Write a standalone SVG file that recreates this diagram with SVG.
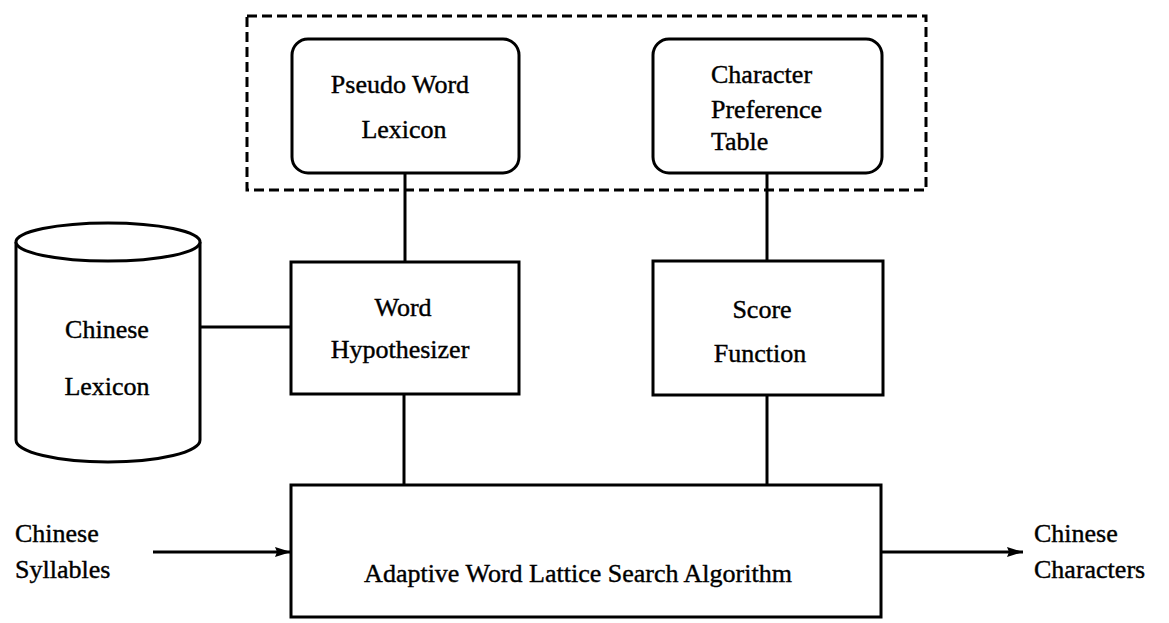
<svg xmlns="http://www.w3.org/2000/svg" width="1169" height="623" viewBox="0 0 1169 623">
<defs>
<style>
.box{fill:#fff;stroke:#000;stroke-width:3}
.ln{fill:none;stroke:#000;stroke-width:3}
.dash{fill:none;stroke:#000;stroke-width:3;stroke-dasharray:10 5}
text{font-family:"Liberation Serif","Times New Roman",serif;font-size:26px;fill:#000;stroke:#000;stroke-width:0.4}
.c{text-anchor:middle}
</style>
<marker id="arr" viewBox="0 0 16 10" refX="16" refY="5" markerWidth="16" markerHeight="10" markerUnits="userSpaceOnUse" orient="auto">
<path d="M0,0 L16,5 L0,10 L2,5 Z" fill="#000"/>
</marker>
</defs>
<rect width="1169" height="623" fill="#fff"/>
<g id="connectors">
<line class="ln" x1="405" y1="173" x2="405" y2="262"/>
<line class="ln" x1="767" y1="173" x2="767" y2="261"/>
<line class="ln" x1="200" y1="327" x2="291" y2="327"/>
<line class="ln" x1="404" y1="394" x2="404" y2="485"/>
<line class="ln" x1="767" y1="395" x2="767" y2="485"/>
<line class="ln" x1="153" y1="552" x2="291" y2="552" marker-end="url(#arr)"/>
<line class="ln" x1="881" y1="552" x2="1023" y2="552" marker-end="url(#arr)"/>
</g>
<g id="knowledge-group">
<rect class="dash" x="247" y="16" width="679" height="174"/>
</g>
<g id="pseudo-word-lexicon">
<rect class="box" x="292" y="39" width="227" height="134" rx="16"/>
<text class="c" x="400" y="93">Pseudo Word</text>
<text class="c" x="404" y="138">Lexicon</text>
</g>
<g id="character-preference-table">
<rect class="box" x="653" y="39" width="229" height="134" rx="16"/>
<text x="711" y="83">Character</text>
<text x="711" y="118">Preference</text>
<text x="711" y="150">Table</text>
</g>
<g id="chinese-lexicon">
<path class="box" d="M16,242 L16,440 A92,22 0 0 0 200,440 L200,242"/>
<ellipse class="box" cx="108" cy="242" rx="92" ry="19"/>
<text class="c" x="107" y="338">Chinese</text>
<text class="c" x="107" y="395">Lexicon</text>
</g>
<g id="word-hypothesizer">
<rect class="box" x="291" y="262" width="228" height="132"/>
<text class="c" x="403" y="316">Word</text>
<text class="c" x="400" y="358">Hypothesizer</text>
</g>
<g id="score-function">
<rect class="box" x="653" y="261" width="230" height="134"/>
<text class="c" x="762" y="318">Score</text>
<text class="c" x="760" y="362">Function</text>
</g>
<g id="search-algorithm">
<rect class="box" x="291" y="485" width="590" height="132"/>
<text class="c" x="578" y="582">Adaptive Word Lattice Search Algorithm</text>
</g>
<g id="input-label">
<text x="15" y="542">Chinese</text>
<text x="15" y="578">Syllables</text>
</g>
<g id="output-label">
<text x="1034" y="542">Chinese</text>
<text x="1034" y="578">Characters</text>
</g>
</svg>
